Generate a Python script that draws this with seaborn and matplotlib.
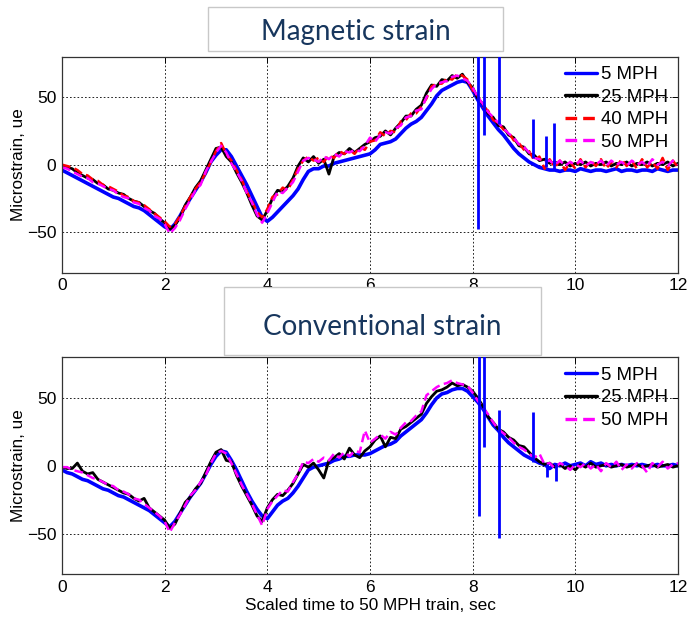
import matplotlib
matplotlib.use('Agg')
import matplotlib.pyplot as plt
from matplotlib.patches import Rectangle
import seaborn as sns
import numpy as np

# time axis, 0.1 s steps (0 .. 12 s)
time = np.round(np.linspace(0, 12, 121), 1)

# ---- Magnetic strain (top panel) ----
mag_5mph = [-4, -6, -8, -10, -12, -14, -16, -18, -20, -22,
            -24, -25, -27, -29, -31, -32, -34, -37, -40, -43,
            -46, -48, -44, -38, -31, -25, -19, -13, -6, 2,
            7, 11, 11, 6, -1, -8, -15, -23, -31, -39,
            -42, -39, -35, -31, -27, -23, -18, -11, -5, -3,
            -3, -1, -1, 1, 2, 3, 4, 5, 6, 7,
            8, 11, 15, 16, 17, 19, 23, 27, 30, 32,
            35, 40, 45, 51, 55, 57, 59, 61, 62, 61,
            55, 48, 42, 36, 31, 26, 22, 17, 12, 8,
            5, 2, 0, -2, -3, -4, -4, -5, -4, -4,
            -5, -3, -4, -5, -4, -4, -5, -4, -3, -5,
            -4, -4, -5, -4, -4, -5, -3, -4, -5, -4, -4]
mag_25mph = [-1, -2, -3, -6, -8, -10, -11, -14, -15, -18,
             -19, -21, -22, -25, -27, -28, -31, -34, -36, -40,
             -43, -48, -45, -39, -30, -24, -17, -12, -4, 4,
             12, 13, 6, 2, -6, -13, -21, -30, -38, -41,
             -34, -25, -19, -20, -16, -10, -1, 5, 2, 6,
             1, 4, -7, 6, 9, 8, 12, 9, 12, 15,
             17, 20, 21, 25, 22, 27, 31, 36, 36, 41,
             44, 53, 59, 58, 63, 62, 66, 64, 67, 61,
             57, 49, 45, 38, 35, 29, 28, 22, 20, 14,
             13, 8, 7, 3, 4, 1, 2, 0, 2, -1,
             1, 0, 2, -1, 1, 0, 2, -1, 1, 0,
             2, -1, 1, 0, 2, -1, 1, 0, 2, -1, 1]
mag_40mph = [0, -1, -2, -4, -7, -8, -11, -12, -15, -16,
             -18, -20, -23, -24, -27, -28, -30, -33, -36, -39,
             -42, -46, -44, -38, -31, -24, -18, -13, -6, 2,
             10, 16, 8, 3, -4, -11, -20, -27, -35, -39,
             -33, -24, -22, -17, -19, -11, -3, 3, 6, 3,
             5, 2, 7, 5, 10, 8, 11, 8, 13, 11,
             17, 18, 24, 21, 25, 24, 32, 33, 38, 38,
             43, 49, 58, 60, 60, 64, 63, 67, 66, 63,
             55, 51, 43, 40, 33, 31, 26, 24, 18, 16,
             11, 10, 3, 6, -3, 4, -2, 3, -4, 2,
             -3, 4, -2, 3, -1, 4, -3, 2, -2, 4,
             -1, 3, -3, 4, -2, 2, -3, 5, -4, 3, -2]
mag_50mph = [-2, -3, -5, -7, -9, -10, -13, -14, -16, -18,
             -19, -22, -24, -25, -28, -29, -32, -34, -38, -40,
             -44, -51, -47, -41, -33, -26, -19, -15, -5, 2,
             9, 14, 9, 1, -5, -12, -21, -28, -37, -43,
             -36, -28, -20, -21, -17, -13, -5, 3, 5, 4,
             2, 6, 4, 8, 6, 10, 9, 11, 10, 14,
             20, 17, 22, 24, 23, 27, 29, 35, 36, 40,
             41, 50, 56, 60, 61, 62, 65, 66, 64, 62,
             57, 50, 45, 39, 35, 31, 27, 23, 20, 15,
             13, 9, 5, 4, 2, 3, 0, 3, -1, 2,
             0, 3, -1, 2, 0, 3, -1, 3, 0, 2,
             -1, 3, 0, 2, -1, 4, 0, 2, -1, 3, 0]
# narrow 5 MPH spikes (time, low, high)
mag_spike_t = [8.10, 8.22, 8.51, 9.18, 9.43, 9.59]
mag_spike_lo = [-48, 22, 30, 5, -2, -3]
mag_spike_hi = [82, 82, 82, 34, 21, 31]

# ---- Conventional strain (bottom panel) ----
conv_5mph = [-3, -5, -6, -8, -10, -11, -13, -15, -17, -18,
             -20, -22, -23, -25, -27, -29, -31, -33, -36, -39,
             -42, -45, -41, -35, -29, -23, -18, -13, -6, 1,
             7, 11, 10, 4, -3, -11, -19, -26, -32, -37,
             -39, -34, -29, -26, -24, -20, -15, -9, -3, -1,
             0, 1, 2, 4, 5, 7, 7, 8, 8, 8,
             9, 11, 13, 15, 16, 18, 22, 25, 28, 31,
             34, 39, 45, 50, 53, 54, 56, 57, 57, 55,
             51, 47, 42, 36, 30, 26, 21, 17, 14, 11,
             8, 6, 4, 2, 1, -2, 1, 0, 2, 0,
             1, 2, 0, 3, 1, 2, 0, 1, 0, 1,
             0, 1, 0, 1, 0, 0, 1, 0, 0, 1, 0]
conv_25mph = [-1, -2, -2, 2, -4, -6, -5, -10, -12, -14,
              -16, -18, -20, -21, -24, -26, -24, -31, -34, -37,
              -40, -46, -43, -35, -27, -23, -17, -13, -5, 3,
              10, 12, 4, 3, -7, -15, -22, -29, -37, -41,
              -31, -25, -21, -22, -18, -13, -6, 1, -1, 2,
              -3, -9, 4, 6, 9, 5, 13, 8, 6, 11,
              14, 19, 22, 14, 21, 20, 27, 29, 32, 35,
              38, 46, 51, 55, 56, 58, 61, 59, 60, 58,
              55, 50, 44, 36, 32, 27, 25, 21, 19, 15,
              14, 10, 6, 3, 1, 2, -1, 1, -2, 0,
              -3, 1, -1, 2, -1, 0, 1, -1, 0, 1,
              -1, 0, 1, -1, 0, 1, -1, 0, 1, -1, 0]
conv_50mph = [-1, -1, -3, -4, -5, -7, -9, -10, -12, -14,
              -15, -18, -19, -21, -24, -25, -28, -31, -34, -37,
              -41, -49, -42, -36, -29, -22, -18, -12, -7, 2,
              9, 11, 9, 2, -6, -14, -21, -28, -36, -44,
              -32, -26, -22, -18, -19, -12, -6, 3, 2, 5,
              3, 6, 4, 9, 6, 10, 7, 11, 10, 26,
              17, 20, 23, 20, 25, 23, 28, 32, 33, 37,
              40, 52, 55, 58, 60, 61, 63, 61, 60, 59,
              54, 48, 43, 38, 32, 27, 24, 21, 17, 14,
              12, 9, 6, 9, 1, 2, -2, 2, 0, -3,
              1, -1, 2, -2, 1, -4, 2, -1, 3, -3,
              1, -2, 2, 0, -5, 2, -1, 3, -2, 1, 2]
conv_spike_t = [8.12, 8.22, 8.52, 9.18, 9.45, 9.62]
conv_spike_lo = [-37, 14, -53, 3, -8, -11]
conv_spike_hi = [82, 82, 41, 40, 1, 1]

sns.set_style('white')
plt.rcParams['font.family'] = ['Liberation Sans', 'DejaVu Sans']
plt.rcParams['text.color'] = 'black'
plt.rcParams['axes.labelcolor'] = 'black'

fig = plt.figure(figsize=(6.87, 6.19), dpi=100)
ax_top = fig.add_axes([0.0902, 0.5595, 0.8967, 0.349])
ax_bot = fig.add_axes([0.0902, 0.0722, 0.8967, 0.3506])

def draw_panel(ax, series, spike_t, spike_lo, spike_hi):
    styles = {
        '5 MPH': dict(color='#0000FF', lw=2.6, ls='-'),
        '25 MPH': dict(color='black', lw=2.0, ls='-'),
        '40 MPH': dict(color='#FF0000', lw=1.8, ls=(0, (3.5, 1.8))),
        '50 MPH': dict(color='#FF00FF', lw=1.8, ls=(0, (3.5, 1.8))),
    }
    for name, vals in series:
        st = styles[name]
        sns.lineplot(x=time, y=vals, ax=ax, color=st['color'], lw=st['lw'],
                     linestyle=st['ls'], label=name, estimator=None)
    ax.vlines(spike_t, spike_lo, spike_hi, colors='#0000FF', lw=2.0, zorder=3)
    ax.set_xlim(0, 12)
    ax.set_ylim(-80, 80)
    ax.set_xticks([0, 2, 4, 6, 8, 10, 12])
    ax.set_yticks([-50, 0, 50])
    ax.grid(True, color='black', linestyle=(0, (2, 2.5)), lw=0.6)
    ax.tick_params(direction='in', top=True, right=True, length=4, width=0.7,
                   labelsize=12.5, pad=4, colors='black')
    for sp in ax.spines.values():
        sp.set_color('#333333')
        sp.set_linewidth(0.9)
    ax.set_ylabel('Microstrain, ue', fontsize=12.3)
    ax.yaxis.set_label_coords(-0.058, 0.5)
    ax.set_xlabel('')
    leg = ax.legend(loc='upper right', bbox_to_anchor=(0.984, 0.956),
                    frameon=False, fontsize=13.4, handlelength=1.75,
                    handletextpad=0.2, labelspacing=0.3, borderpad=0,
                    borderaxespad=0)
    for line in leg.get_lines():
        line.set_linewidth(2.4)

draw_panel(ax_top, [('5 MPH', mag_5mph), ('25 MPH', mag_25mph),
                    ('40 MPH', mag_40mph), ('50 MPH', mag_50mph)],
           mag_spike_t, mag_spike_lo, mag_spike_hi)
draw_panel(ax_bot, [('5 MPH', conv_5mph), ('25 MPH', conv_25mph),
                    ('50 MPH', conv_50mph)],
           conv_spike_t, conv_spike_lo, conv_spike_hi)
ax_bot.set_xlabel('Scaled time to 50 MPH train, sec', fontsize=12.4, labelpad=2)

# slide-style title boxes laid over the figure
title_color = '#17365D'
fig.add_artist(Rectangle((0.3028, 0.9176), 0.4294, 0.0711, transform=fig.transFigure,
                         facecolor='white', edgecolor='#C8C8C8', lw=1, zorder=5))
fig.text(0.518, 0.9354, 'Magnetic strain', ha='center', va='baseline',
         fontsize=20, color=title_color, family=['Lato', 'DejaVu Sans'], zorder=6)
fig.add_artist(Rectangle((0.326, 0.4265), 0.4614, 0.1099, transform=fig.transFigure,
                         facecolor='white', edgecolor='#C8C8C8', lw=1, zorder=5))
fig.text(0.556, 0.4588, 'Conventional strain', ha='center', va='baseline',
         fontsize=20, color=title_color, family=['Lato', 'DejaVu Sans'], zorder=6)

fig.savefig('out.png', dpi=100, facecolor='white')
